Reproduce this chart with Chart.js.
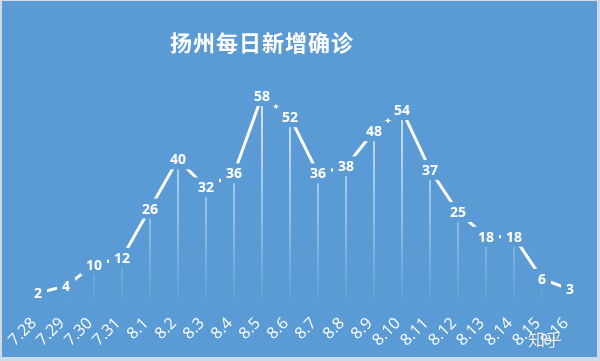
<!DOCTYPE html>
<html>
<head>
<meta charset="utf-8">
<script src="https://cdn.jsdelivr.net/npm/chart.js@4/dist/chart.umd.min.js"></script>
<style>
  html, body { margin: 0; padding: 0; background: #cfdae6; }
  #wrap { width: 600px; height: 361px; }
</style>
</head>
<body>
<div id="wrap"><canvas id="chart" width="600" height="361"></canvas></div>
<script>
const titleText = '扬州每日新增确诊';
const days = ['7.28', '7.29', '7.30', '7.31', '8.1', '8.2', '8.3', '8.4', '8.5', '8.6',
  '8.7', '8.8', '8.9', '8.10', '8.11', '8.12', '8.13', '8.14', '8.15', '8.16'];
const cases = [2, 4, 10, 12, 26, 40, 32, 36, 58, 52, 36, 38, 48, 54, 37, 25, 18, 18, 6, 3];

const blue = '#5b9bd5';
const labelFont = 'bold 14px "Open Sans", "Liberation Sans", sans-serif';

// background panel + title
const panel = {
  id: 'panel',
  beforeDraw(chart) {
    const c = chart.ctx;
    c.save();
    c.fillStyle = '#cfdae6';
    c.fillRect(0, 0, chart.width, chart.height);
    c.fillStyle = blue;
    c.fillRect(2, 1, 595, 356);
    c.fillStyle = '#ffffff';
    c.font = 'bold 22px "Noto Sans CJK SC", sans-serif';
    c.textAlign = 'center';
    c.textBaseline = 'middle';
    if ('letterSpacing' in c) c.letterSpacing = '1px';
    c.fillText(titleText, 262, 43);
    c.restore();
  },
  afterDraw(chart) {
    const c = chart.ctx;
    const meta = chart.getDatasetMeta(1);
    c.save();
    c.font = labelFont;
    c.textAlign = 'center';
    c.textBaseline = 'middle';
    meta.data.forEach((pt, i) => {
      const txt = String(cases[i]);
      const w = c.measureText(txt).width + 10;
      c.fillStyle = blue;
      c.fillRect(pt.x - w / 2, pt.y - 10, w, 20);
      c.fillStyle = '#ffffff';
      c.fillText(txt, pt.x, pt.y + 1);
    });
    // watermark
    c.font = '17px "Noto Sans CJK SC", sans-serif';
    c.fillStyle = 'rgba(255,255,255,0.9)';
    c.shadowColor = 'rgba(0,0,0,0.35)';
    c.shadowBlur = 2;
    c.textAlign = 'left';
    c.fillText('知乎', 528, 340);
    c.restore();
  }
};

const dropColor = (ctx) => {
  const area = ctx.chart.chartArea;
  if (!area) return 'rgba(255,255,255,0.6)';
  const g = ctx.chart.ctx.createLinearGradient(0, area.top, 0, area.bottom);
  g.addColorStop(0, 'rgba(255,255,255,0.95)');
  g.addColorStop(1, 'rgba(255,255,255,0.05)');
  return g;
};

new Chart(document.getElementById('chart'), {
  type: 'bar',
  data: {
    labels: days,
    datasets: [
      {
        type: 'bar',
        data: cases,
        backgroundColor: dropColor,
        barThickness: 1,
        order: 2
      },
      {
        type: 'line',
        data: cases,
        borderColor: '#ffffff',
        borderWidth: 3,
        pointRadius: 0,
        tension: 0,
        order: 1
      }
    ]
  },
  plugins: [panel],
  options: {
    responsive: false,
    animation: false,
    layout: { padding: { left: 24, right: 16, top: 89, bottom: 0 } },
    plugins: { legend: { display: false }, tooltip: { enabled: false }, title: { display: false } },
    scales: {
      x: {
        grid: { display: false, drawTicks: false },
        border: { display: false },
        afterFit: (s) => { s.height = 61; },
        ticks: {
          color: '#ffffff',
          font: { size: 16, family: '"Open Sans", "Liberation Sans", sans-serif' },
          minRotation: 45,
          maxRotation: 45,
          autoSkip: false,
          labelOffset: -4,
          padding: 14
        }
      },
      y: {
        display: false,
        min: 0,
        max: 60
      }
    }
  }
});
</script>
</body>
</html>
